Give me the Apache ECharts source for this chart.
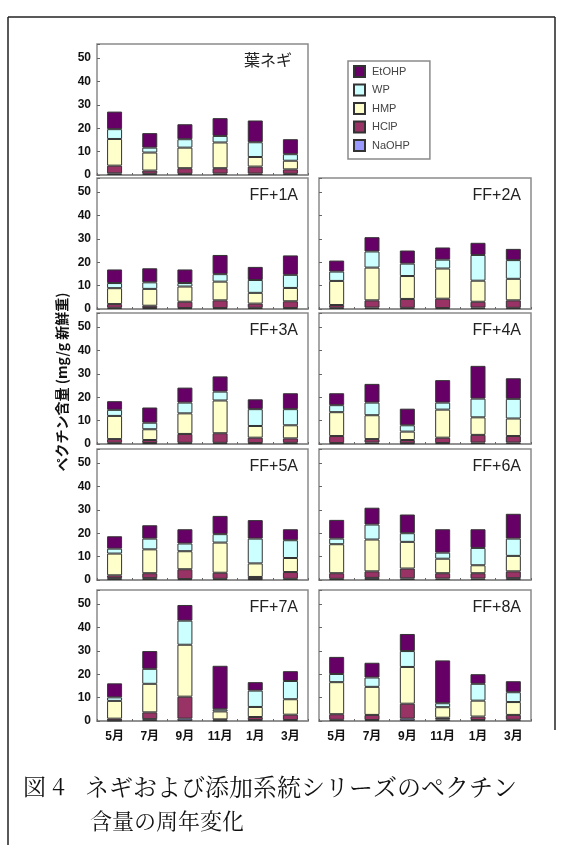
<!DOCTYPE html>
<html>
<head>
<meta charset="utf-8">
<script src="https://cdn.jsdelivr.net/npm/echarts@6/dist/echarts.min.js"></script>
<style>
html, body { margin: 0; padding: 0; background: #fff; }
#chart { width: 566px; height: 845px; }
</style>
</head>
<body>
<div id="chart"></div>
<script>
'use strict';
const months = ['5月', '7月', '9月', '11月', '1月', '3月'];
// 積み上げ順（下→上）
const fractions = ['NaOHP', 'HClP', 'HMP', 'WP', 'EtOHP'];
const legendOrder = ['EtOHP', 'WP', 'HMP', 'HClP', 'NaOHP'];
const yTicks = [0, 10, 20, 30, 40, 50];

// 各パネル: 行 = fractions の順, 列 = months の順 (mg/g 新鮮重)
const haNegi = [
    [0.7, 0.5, 0.5, 0.6, 0.6, 0.5],
    [3.3, 1.4, 2.4, 2.3, 3.0, 1.9],
    [11.4, 7.7, 8.8, 11.0, 4.1, 3.7],
    [4.2, 2.1, 3.6, 2.8, 6.3, 2.8],
    [7.5, 6.2, 6.4, 7.6, 9.3, 6.4]
];
const ff1a = [
    [0.5, 0.4, 0.4, 0.4, 0.5, 0.4],
    [1.6, 1.0, 2.7, 3.3, 1.8, 2.9],
    [6.8, 7.2, 6.5, 8.0, 4.6, 5.7],
    [2.2, 2.8, 1.5, 3.2, 5.5, 5.6],
    [5.8, 6.0, 5.8, 8.2, 5.6, 8.3]
];
const ff2a = [
    [0.5, 0.6, 0.5, 0.4, 0.6, 0.5],
    [1.2, 3.1, 3.8, 4.0, 2.5, 3.2],
    [10.3, 14.0, 9.8, 12.9, 9.0, 9.2],
    [4.0, 6.9, 5.3, 3.8, 11.0, 8.0],
    [4.7, 6.1, 5.6, 5.2, 5.2, 4.8]
];
const ff3a = [
    [0.5, 0.4, 0.5, 0.5, 0.4, 0.5],
    [1.6, 1.3, 3.8, 4.1, 2.3, 1.9],
    [9.9, 4.6, 8.8, 14.0, 5.0, 5.6],
    [2.6, 2.8, 4.6, 3.8, 7.2, 6.9],
    [3.7, 6.5, 6.4, 6.5, 4.2, 6.8]
];
const ff4a = [
    [0.4, 0.6, 0.3, 0.4, 0.6, 0.6],
    [3.0, 1.5, 1.4, 2.3, 3.3, 2.8],
    [10.2, 10.2, 3.6, 12.0, 7.5, 7.5],
    [3.0, 5.4, 2.7, 3.0, 8.0, 8.4],
    [5.1, 8.0, 7.1, 9.6, 14.0, 8.8]
];
const ff5a = [
    [0.8, 0.8, 0.4, 0.5, 0.4, 0.5],
    [1.2, 2.1, 4.2, 2.6, 0.9, 2.9],
    [9.3, 10.2, 7.7, 12.9, 5.8, 6.0],
    [2.1, 4.6, 3.3, 3.6, 10.6, 7.6],
    [5.3, 5.7, 6.1, 7.8, 7.9, 4.7]
];
const ff6a = [
    [0.5, 0.9, 0.7, 0.6, 0.6, 0.8],
    [2.4, 2.8, 4.2, 2.3, 2.3, 2.9],
    [12.4, 13.6, 11.4, 6.2, 3.4, 6.6],
    [2.4, 6.4, 3.7, 2.6, 7.4, 7.4],
    [8.0, 7.2, 8.0, 10.0, 8.0, 10.6]
];
const ff7a = [
    [0.2, 0.8, 1.0, 0.2, 0.4, 0.4],
    [0.8, 2.9, 9.4, 0.5, 1.3, 2.3],
    [7.6, 12.2, 22.2, 3.4, 4.3, 6.6],
    [1.5, 6.4, 10.3, 0.9, 7.0, 7.8],
    [6.0, 7.6, 6.7, 18.6, 3.6, 4.2]
];
const ff8a = [
    [0.5, 0.4, 1.0, 0.7, 0.4, 0.5],
    [2.4, 2.2, 6.4, 0.7, 1.5, 2.1],
    [13.7, 12.0, 15.7, 4.5, 6.8, 5.5],
    [3.5, 4.0, 6.8, 1.7, 7.2, 4.2],
    [7.3, 6.3, 7.3, 18.3, 4.1, 4.7]
];
const panelNames = ['葉ネギ', 'FF+1A', 'FF+2A', 'FF+3A', 'FF+4A', 'FF+5A', 'FF+6A', 'FF+7A', 'FF+8A'];
const panelData = [haNegi, ff1a, ff2a, ff3a, ff4a, ff5a, ff6a, ff7a, ff8a];

const colors = {
    NaOHP: '#9999ff',
    HClP: '#993366',
    HMP: '#ffffcc',
    WP: '#ccffff',
    EtOHP: '#660066'
};

// パネル配置
const colLeft = [97, 319];
const colWidth = [211, 212];
const rowTop = [44, 178, 313, 449, 590];
const rowHeight = 131;
const slots = [[0, 0], [1, 0], [1, 1], [2, 0], [2, 1], [3, 0], [3, 1], [4, 0], [4, 1]];

const numFont = 'Arial, "Liberation Sans", "Noto Sans CJK JP", sans-serif';
const capFont = '"Noto Serif CJK JP", "Noto Sans CJK JP", serif';

const grids = [], xAxes = [], yAxes = [], series = [], titles = [];
slots.forEach(([r, c], i) => {
    grids.push({
        left: colLeft[c],
        top: rowTop[r],
        width: colWidth[c],
        height: rowHeight,
        show: true,
        backgroundColor: '#fff',
        borderColor: '#8a8a8a',
        borderWidth: 1.5
    });
    xAxes.push({
        type: 'category',
        gridIndex: i,
        data: months,
        axisLine: { lineStyle: { color: '#8a8a8a', width: 1.5 } },
        axisTick: { show: true, inside: true, length: 2, interval: 0, lineStyle: { color: '#666' } },
        axisLabel: {
            show: r === 4,
            interval: 0,
            margin: 10,
            color: '#111',
            fontSize: 12,
            fontWeight: 'bold',
            fontFamily: numFont
        }
    });
    yAxes.push({
        type: 'value',
        gridIndex: i,
        min: 0,
        max: 56,
        interval: 10,
        axisLine: { show: false },
        splitLine: { show: false },
        axisTick: { show: true, inside: true, length: 3, lineStyle: { color: '#666' } },
        axisLabel: {
            show: c === 0,
            margin: 6,
            color: '#111',
            fontSize: 12,
            fontWeight: 'bold',
            fontFamily: numFont,
            formatter: v => (yTicks.indexOf(v) >= 0 ? String(v) : '')
        }
    });
    fractions.forEach((name, k) => {
        series.push({
            name: name,
            type: 'bar',
            xAxisIndex: i,
            yAxisIndex: i,
            stack: 'p' + i,
            barWidth: 15,
            data: panelData[i][k],
            itemStyle: { color: colors[name], borderColor: '#333', borderWidth: 1 },
            emphasis: { disabled: true },
            animation: false
        });
    });
    titles.push({
        text: panelNames[i],
        right: 566 - (colLeft[c] + colWidth[c]) + (i === 0 ? 16 : 10),
        top: rowTop[r] + 10,
        padding: 0,
        textStyle: {
            fontSize: i === 0 ? 16 : 16,
            fontWeight: 'normal',
            color: '#222',
            fontFamily: numFont
        }
    });
});

const chart = echarts.init(document.getElementById('chart'));
chart.setOption({
    backgroundColor: '#fff',
    animation: false,
    title: titles,
    grid: grids,
    xAxis: xAxes,
    yAxis: yAxes,
    series: series,
    legend: {
        data: legendOrder,
        orient: 'vertical',
        left: 348,
        top: 61,
        padding: [4, 20, 7, 5],
        itemGap: 5.5,
        itemWidth: 11,
        itemHeight: 11,
        icon: 'rect',
        selectedMode: false,
        borderColor: '#8a8a8a',
        borderWidth: 1.5,
        textStyle: { fontSize: 11, color: '#444', fontFamily: numFont, padding: [0, 0, 0, 2] }
    },
    graphic: [
        // 外枠
        { type: 'line', shape: { x1: 8, y1: 17, x2: 555, y2: 17 }, style: { stroke: '#222', lineWidth: 1.5 } },
        { type: 'line', shape: { x1: 8, y1: 17, x2: 8, y2: 845 }, style: { stroke: '#222', lineWidth: 1.5 } },
        { type: 'line', shape: { x1: 555, y1: 17, x2: 555, y2: 730 }, style: { stroke: '#222', lineWidth: 1.5 } },
        {
            type: 'text',
            x: 62,
            y: 382,
            rotation: Math.PI / 2,
            style: {
                text: 'ペクチン含量 (mg/g 新鮮重)',
                fill: '#111',
                font: 'bold 14px "Noto Sans CJK JP", sans-serif',
                textAlign: 'center',
                textVerticalAlign: 'middle'
            }
        },
        {
            type: 'text',
            left: 23,
            top: 775,
            style: { text: '図 4', fill: '#111', font: '23px ' + capFont }
        },
        {
            type: 'text',
            left: 85,
            top: 775,
            style: { text: 'ネギおよび添加系統シリーズのペクチン', fill: '#111', font: '24px ' + capFont }
        },
        {
            type: 'text',
            left: 90,
            top: 810,
            style: { text: '含量の周年変化', fill: '#111', font: '22px ' + capFont }
        }
    ]
});
</script>
</body>
</html>
